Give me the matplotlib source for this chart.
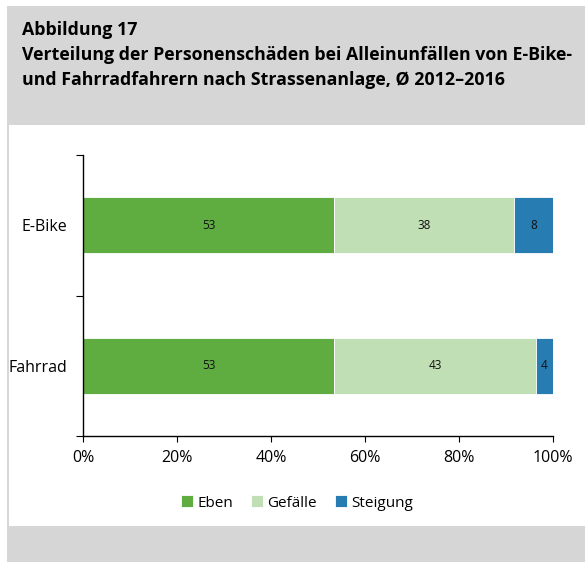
import matplotlib
matplotlib.use("Agg")
import matplotlib.pyplot as plt
from matplotlib.patches import Rectangle
from matplotlib import font_manager

categories = ["E-Bike", "Fahrrad"]
series_names = ["Eben", "Gefälle", "Steigung"]
eben = [53.4, 53.4]
gefaelle = [38.4, 43.0]
steigung = [8.2, 3.6]
xtick_values = [0, 20, 40, 60, 80, 100]
xtick_labels = ["0%", "20%", "40%", "60%", "80%", "100%"]
colors = ["#5fad41", "#c0dfb4", "#277db2"]

available = {f.name for f in font_manager.fontManager.ttflist}
fam = [f for f in ["Liberation Sans Narrow", "DejaVu Sans Condensed", "Open Sans", "DejaVu Sans"] if f in available]
plt.rcParams['font.family'] = fam

W, H = 585, 562
fig = plt.figure(figsize=(W/100, H/100), dpi=100)
fig.patch.set_facecolor("white")
gray = "#d6d6d6"
def frect(x0, y0, x1, y1):
    fig.patches.append(Rectangle((x0/W, 1 - y1/H), (x1-x0)/W, (y1-y0)/H,
                                 transform=fig.transFigure, facecolor=gray,
                                 edgecolor="none", zorder=0))
frect(7, 6, W, 125)
frect(7, 6, 9, H)
frect(7, 526, W, H)

tfs = 12.8
fig.text(22/W, 1 - 30/H, "Abbildung 17", fontsize=tfs, fontweight="bold", va="center", ha="left")
fig.text(22/W, 1 - 55/H, "Verteilung der Personenschäden bei Alleinunfällen von E-Bike-",
         fontsize=tfs, fontweight="bold", va="center", ha="left")
fig.text(22/W, 1 - 80/H, "und Fahrradfahrern nach Strassenanlage, Ø 2012–2016",
         fontsize=tfs, fontweight="bold", va="center", ha="left")

ax = fig.add_axes([83/W, 1 - 436/H, (553-83)/W, (436-155)/H])
ypos = list(range(len(categories)))
left = [0]*len(categories)
for name, vals, c in zip(series_names, [eben, gefaelle, steigung], colors):
    ax.barh(ypos, vals, left=left, height=0.4, color=c, label=name,
            edgecolor="white", linewidth=0.6)
    for y, l, v in zip(ypos, left, vals):
        ax.text(l + v/2, y, f"{round(v):d}", ha="center", va="center", fontsize=8.5, color="#111111")
    left = [a + b for a, b in zip(left, vals)]

ax.set_xlim(0, 100)
ax.set_ylim(len(categories) - 0.5, -0.5)
ax.set_xticks(xtick_values)
ax.set_xticklabels(xtick_labels, fontsize=11.5)
ax.set_yticks([-0.5, 0.5, 1.5])
ax.set_yticklabels([])
ax.set_yticks(ypos, minor=True)
ax.set_yticklabels(categories, minor=True, fontsize=11.5)
ax.tick_params(axis="y", which="minor", length=0, pad=11)
ax.tick_params(axis="y", which="major", length=5, direction="out", width=0.8)
ax.tick_params(axis="x", length=4, direction="out", width=0.8, pad=6)
for s in ["top", "right"]:
    ax.spines[s].set_visible(False)
for s in ["left", "bottom"]:
    ax.spines[s].set_linewidth(1.0)
    ax.spines[s].set_color("black")

fig.legend(loc="center", bbox_to_anchor=(297/W, 1 - 503/H), ncol=3, frameon=False,
           fontsize=11, handlelength=0.8, handleheight=0.8, handletextpad=0.25,
           columnspacing=1.2)

fig.savefig("out.png", dpi=100, facecolor="white")
